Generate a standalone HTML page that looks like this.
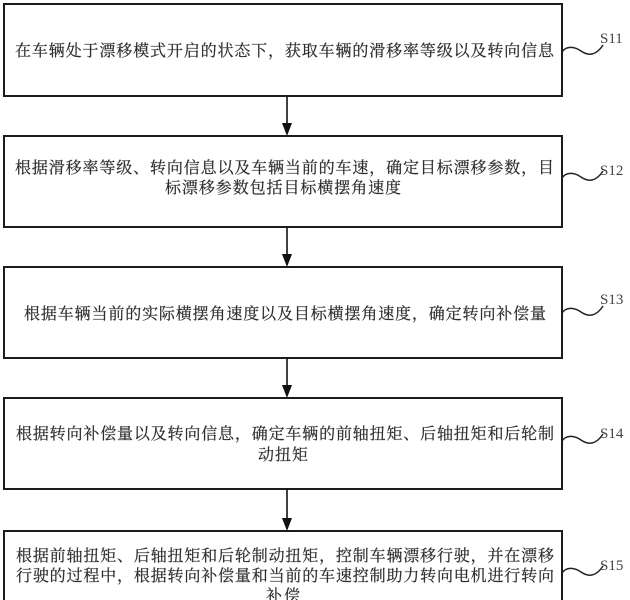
<!DOCTYPE html>
<html>
<head>
<meta charset="utf-8">
<style>
  html, body { margin: 0; padding: 0; background: #ffffff; width: 630px; height: 600px; overflow: hidden; }
  svg { display: block; }
  .t { font-family: "Liberation Serif", "Noto Serif CJK SC", "Noto Sans CJK SC", serif; font-size: 16px; fill: #2a2a2a; stroke: #3a3a3a; stroke-width: 0.25; }
  .s { font-family: "Liberation Serif", serif; font-size: 15px; fill: #444; }
  .box { fill: #fff; stroke: #1c1c1c; stroke-width: 2; }
  .sq { fill: none; stroke: #222; stroke-width: 1.5; }
  .ar { stroke: #111; stroke-width: 1.6; }
</style>
</head>
<body>
<svg width="630" height="600" viewBox="0 0 630 600" xmlns="http://www.w3.org/2000/svg" overflow="hidden">
  <!-- Boxes -->
  <rect class="box" x="4" y="4" width="558" height="92"/>
  <rect class="box" x="4" y="136" width="558" height="91"/>
  <rect class="box" x="4" y="267" width="558" height="91"/>
  <rect class="box" x="4" y="398" width="558" height="91"/>
  <path d="M4,601 L4,531 L562,531 L562,601" fill="#fff" stroke="#1c1c1c" stroke-width="2"/>

  <!-- Arrows -->
  <line class="ar" x1="287" y1="96" x2="287" y2="124"/>
  <polygon points="282,123 292,123 287,136" fill="#111"/>
  <line class="ar" x1="287" y1="227" x2="287" y2="255"/>
  <polygon points="282,254 292,254 287,267" fill="#111"/>
  <line class="ar" x1="287" y1="358" x2="287" y2="386"/>
  <polygon points="282,385 292,385 287,398" fill="#111"/>
  <line class="ar" x1="287" y1="489" x2="287" y2="519"/>
  <polygon points="282,518 292,518 287,531" fill="#111"/>

  <!-- Box texts -->
  <text class="t" x="15" y="56" textLength="539" lengthAdjust="spacing">在车辆处于漂移模式开启的状态下，获取车辆的滑移率等级以及转向信息</text>

  <text class="t" x="15" y="173" textLength="539" lengthAdjust="spacing">根据滑移率等级、转向信息以及车辆当前的车速，确定目标漂移参数，目</text>
  <text class="t" x="165" y="193" textLength="236" lengthAdjust="spacing">标漂移参数包括目标横摆角速度</text>

  <text class="t" x="24" y="319" textLength="522" lengthAdjust="spacing">根据车辆当前的实际横摆角速度以及目标横摆角速度，确定转向补偿量</text>

  <text class="t" x="16" y="439" textLength="538" lengthAdjust="spacing">根据转向补偿量以及转向信息，确定车辆的前轴扭矩、后轴扭矩和后轮制</text>
  <text class="t" x="258" y="460" textLength="50" lengthAdjust="spacing">动扭矩</text>

  <text class="t" x="16" y="561" textLength="538" lengthAdjust="spacing">根据前轴扭矩、后轴扭矩和后轮制动扭矩，控制车辆漂移行驶，并在漂移</text>
  <text class="t" x="16" y="581" textLength="538" lengthAdjust="spacing">行驶的过程中，根据转向补偿量和当前的车速控制助力转向电机进行转向</text>
  <text class="t" x="266" y="601" textLength="34" lengthAdjust="spacing">补偿</text>

  <!-- Squiggles -->
  <path class="sq" d="M562,52 C566,46 574,46 581,51 S596,56 603,45"/>
  <path class="sq" d="M562,178 C566,172 574,172 581,177 S596,182 603,171"/>
  <path class="sq" d="M562,313 C566,307 574,307 581,312 S596,317 603,306"/>
  <path class="sq" d="M562,441 C566,435 574,435 581,440 S596,445 603,434"/>
  <path class="sq" d="M562,573 C566,567 574,567 581,572 S596,577 603,566"/>

  <!-- Step labels -->
  <text class="s" x="600" y="43">S11</text>
  <text class="s" x="600" y="175">S12</text>
  <text class="s" x="600" y="304">S13</text>
  <text class="s" x="600" y="438">S14</text>
  <text class="s" x="600" y="570">S15</text>
</svg>
</body>
</html>
